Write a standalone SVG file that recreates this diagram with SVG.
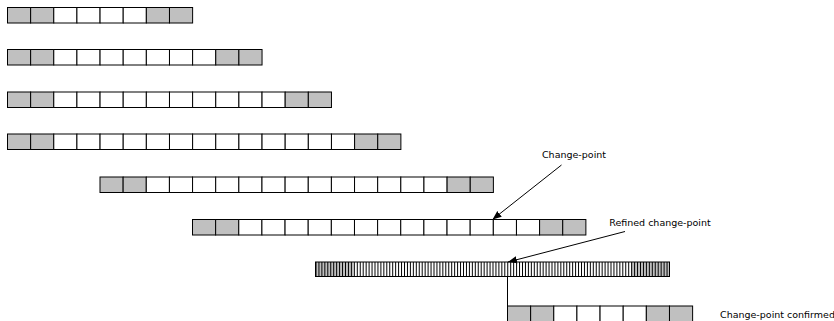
<svg xmlns="http://www.w3.org/2000/svg" width="834" height="321" viewBox="0 0 834 321">
  <style>
    .c { stroke: #000; stroke-width: 1; fill: #fff; }
    .g { stroke: #000; stroke-width: 1; fill: #c0c0c0; }
    .frame { fill: none; stroke: #333; stroke-width: 1.2; }
    .lbl { font-family: "DejaVu Sans", Verdana, sans-serif; font-size: 9.5px; fill: #000; }
    .conn { stroke: #000; stroke-width: 1; fill: none; }
  </style>
  <defs>
    <marker id="ah" viewBox="0 0 10 10" refX="10" refY="5" markerWidth="9" markerHeight="9" markerUnits="userSpaceOnUse" orient="auto">
      <path d="M0,1 L10,5 L0,9 Z" fill="#000"/>
    </marker>
    <pattern id="fine" patternUnits="userSpaceOnUse" x="315.5" y="0" width="2.95" height="20">
      <line x1="0.5" y1="0" x2="0.5" y2="20" stroke="#000" stroke-width="1"/>
    </pattern>
    <!-- one 23.14 px cell of each kind -->
    <rect id="w" class="c" width="23.14" height="15.5"/>
    <rect id="s" class="g" width="23.14" height="15.5"/>
  </defs>

  <!-- window of 8 -->
  <g id="row1" transform="translate(7.5,7.5)">
    <use href="#s" x="0"/><use href="#s" x="23.14"/>
    <use href="#w" x="46.28"/><use href="#w" x="69.42"/><use href="#w" x="92.56"/><use href="#w" x="115.7"/>
    <use href="#s" x="138.84"/><use href="#s" x="161.98"/>
  </g>

  <!-- window of 11 -->
  <g id="row2" transform="translate(7.5,49.5)">
    <use href="#s" x="0"/><use href="#s" x="23.14"/>
    <use href="#w" x="46.28"/><use href="#w" x="69.42"/><use href="#w" x="92.56"/><use href="#w" x="115.7"/>
    <use href="#w" x="138.84"/><use href="#w" x="161.98"/><use href="#w" x="185.12"/>
    <use href="#s" x="208.26"/><use href="#s" x="231.4"/>
  </g>

  <!-- window of 14 -->
  <g id="row3" transform="translate(7.5,92)">
    <use href="#s" x="0"/><use href="#s" x="23.14"/>
    <use href="#w" x="46.28"/><use href="#w" x="69.42"/><use href="#w" x="92.56"/><use href="#w" x="115.7"/>
    <use href="#w" x="138.84"/><use href="#w" x="161.98"/><use href="#w" x="185.12"/><use href="#w" x="208.26"/>
    <use href="#w" x="231.4"/><use href="#w" x="254.54"/>
    <use href="#s" x="277.68"/><use href="#s" x="300.82"/>
  </g>

  <!-- window of 17 -->
  <g id="row4" transform="translate(7.5,134)">
    <use href="#s" x="0"/><use href="#s" x="23.14"/>
    <use href="#w" x="46.28"/><use href="#w" x="69.42"/><use href="#w" x="92.56"/><use href="#w" x="115.7"/>
    <use href="#w" x="138.84"/><use href="#w" x="161.98"/><use href="#w" x="185.12"/><use href="#w" x="208.26"/>
    <use href="#w" x="231.4"/><use href="#w" x="254.54"/><use href="#w" x="277.68"/><use href="#w" x="300.82"/>
    <use href="#w" x="323.96"/>
    <use href="#s" x="347.1"/><use href="#s" x="370.24"/>
  </g>

  <!-- window of 17, shifted by 4 -->
  <g id="row5" transform="translate(100,177)">
    <use href="#s" x="0"/><use href="#s" x="23.14"/>
    <use href="#w" x="46.28"/><use href="#w" x="69.42"/><use href="#w" x="92.56"/><use href="#w" x="115.7"/>
    <use href="#w" x="138.84"/><use href="#w" x="161.98"/><use href="#w" x="185.12"/><use href="#w" x="208.26"/>
    <use href="#w" x="231.4"/><use href="#w" x="254.54"/><use href="#w" x="277.68"/><use href="#w" x="300.82"/>
    <use href="#w" x="323.96"/>
    <use href="#s" x="347.1"/><use href="#s" x="370.24"/>
  </g>

  <!-- window of 17, shifted by 8 -->
  <g id="row6" transform="translate(192.5,219.5)">
    <use href="#s" x="0"/><use href="#s" x="23.14"/>
    <use href="#w" x="46.28"/><use href="#w" x="69.42"/><use href="#w" x="92.56"/><use href="#w" x="115.7"/>
    <use href="#w" x="138.84"/><use href="#w" x="161.98"/><use href="#w" x="185.12"/><use href="#w" x="208.26"/>
    <use href="#w" x="231.4"/><use href="#w" x="254.54"/><use href="#w" x="277.68"/><use href="#w" x="300.82"/>
    <use href="#w" x="323.96"/>
    <use href="#s" x="347.1"/><use href="#s" x="370.24"/>
  </g>

  <!-- fine-grained window -->
  <g id="row7">
    <rect x="315.5" y="262" width="354" height="14.5" fill="#fff"/>
    <rect x="315.5" y="262" width="38" height="14.5" fill="#c0c0c0"/>
    <rect x="631" y="262" width="38.5" height="14.5" fill="#c0c0c0"/>
    <rect x="315.5" y="262" width="354" height="14.5" fill="url(#fine)"/>
    <rect x="315.5" y="262" width="354" height="14.5" fill="none" stroke="#000" stroke-width="1"/>
  </g>

  <!-- confirmation window of 8 -->
  <g id="row8" transform="translate(507.5,306)">
    <use href="#s" x="0"/><use href="#s" x="23.14"/>
    <use href="#w" x="46.28"/><use href="#w" x="69.42"/><use href="#w" x="92.56"/><use href="#w" x="115.7"/>
    <use href="#s" x="138.84"/><use href="#s" x="161.98"/>
  </g>

  <g id="labels">
    <text class="lbl" x="574" y="158" text-anchor="middle">Change-point</text>
    <text class="lbl" x="660" y="226" text-anchor="middle">Refined change-point</text>
    <text class="lbl" x="720" y="318">Change-point confirmed</text>
  </g>

  <g id="connectors">
    <line class="conn" x1="561.5" y1="165" x2="492.5" y2="219.5" marker-end="url(#ah)"/>
    <line class="conn" x1="625" y1="231.5" x2="508" y2="262" marker-end="url(#ah)"/>
    <line class="conn" x1="507.5" y1="276.5" x2="507.5" y2="306"/>
  </g>
</svg>
